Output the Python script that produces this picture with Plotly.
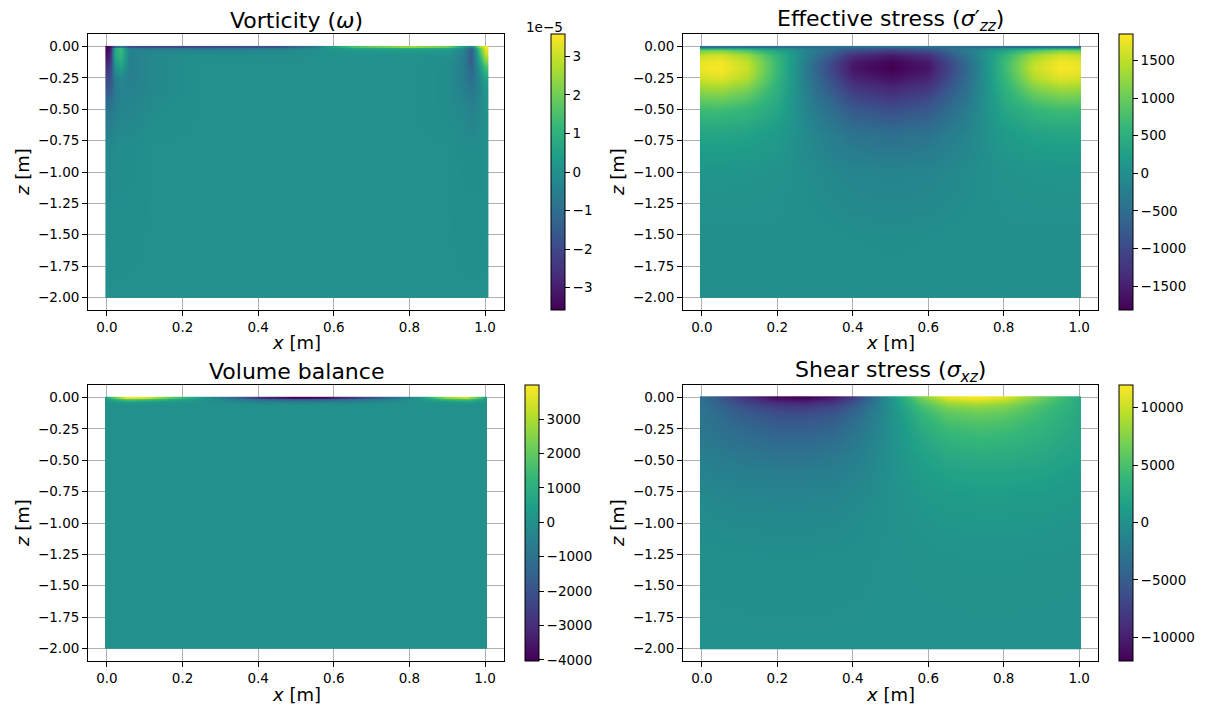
import plotly.graph_objects as go

# ---------------- data ----------------
x_ticks = [0.0, 0.2, 0.4, 0.6, 0.8, 1.0]
z_ticks = [0.0, -0.25, -0.5, -0.75, -1.0, -1.25, -1.5, -1.75, -2.0]

# Vorticity, in units of 1e-5
vort_x = [0.0, 0.008, 0.02, 0.035, 0.06, 0.12, 0.25, 0.45, 0.55, 0.65, 0.8, 0.9, 0.94, 0.965, 0.985, 1.0]
vort_z = [0.0, -0.01, -0.03, -0.06, -0.1, -0.16, -0.25, -0.35, -0.5, -0.8, -1.99, -2.0]
vort_vals = [
    [-3.5, -3.2, -1.5, -0.5, -1.8, -2.0, -2.0, -1.8, -0.5, 1.5, 2.5, 2.0, 0.5, -0.5, 2.5, 3.5],
    [-3.5, -3.0, 0.5, 1.3, -0.8, -0.8, -0.8, -0.7, -0.2, 0.6, 0.8, 0.6, 0.0, -1.2, 1.8, 3.5],
    [-3.4, -2.8, 0.6, 1.3, -0.4, -0.4, -0.4, -0.3, 0.0, 0.3, 0.4, 0.3, -0.3, -1.5, 1.5, 3.3],
    [-3.2, -2.6, 0.6, 1.2, -0.4, -0.2, -0.1, -0.1, 0.0, 0.1, 0.1, 0.1, -0.4, -1.5, 1.2, 3.0],
    [-3.0, -2.4, 0.4, 1.0, -0.5, -0.2, 0.0, 0.0, 0.0, 0.0, 0.0, 0.0, -0.5, -1.5, 0.8, 2.5],
    [-2.5, -2.1, 0.0, 0.5, -0.5, -0.2, 0.0, 0.0, 0.0, 0.0, 0.0, -0.1, -0.5, -1.3, 0.3, 1.5],
    [-2.0, -1.8, -0.6, -0.2, -0.5, -0.2, 0.0, 0.0, 0.0, 0.0, 0.0, -0.1, -0.5, -1.0, -0.2, 0.6],
    [-1.5, -1.3, -0.7, -0.4, -0.4, -0.2, 0.0, 0.0, 0.0, 0.0, 0.0, -0.1, -0.4, -0.7, -0.3, 0.2],
    [-0.8, -0.7, -0.5, -0.3, -0.3, -0.1, 0.0, 0.0, 0.0, 0.0, 0.0, -0.1, -0.2, -0.4, -0.2, 0.0],
    [-0.2, -0.2, -0.1, -0.1, -0.1, 0.0, 0.0, 0.0, 0.0, 0.0, 0.0, 0.0, -0.1, -0.1, -0.1, 0.0],
    [0.0] * 16,
    [0.0] * 16,
]
vort_range = [-3.58, 3.58]
vort_cticks = [-3, -2, -1, 0, 1, 2, 3]

# Effective stress
eff_x = [0.0, 0.01, 0.05, 0.12, 0.2, 0.3, 0.4, 0.5, 0.6, 0.7, 0.8, 0.88, 0.95, 0.99, 1.0]
eff_z = [0.0, -0.01, -0.03, -0.07, -0.12, -0.18, -0.25, -0.35, -0.5, -0.7, -1.0, -1.5, -1.99, -2.0]
eff_vals = [
    [-500, -500, -500, -500, -500, -500, -500, -500, -500, -500, -500, -500, -500, -500, -500],
    [200, 250, 300, 200, 0, -400, -700, -800, -700, -400, 0, 200, 300, 250, 200],
    [1000, 1050, 1100, 800, 300, -300, -900, -1100, -900, -300, 300, 800, 1100, 1050, 1000],
    [1500, 1550, 1600, 1300, 550, -400, -1300, -1550, -1300, -400, 550, 1300, 1600, 1550, 1500],
    [1720, 1760, 1800, 1500, 650, -550, -1550, -1780, -1550, -550, 650, 1500, 1800, 1760, 1720],
    [1750, 1790, 1820, 1550, 650, -600, -1600, -1815, -1600, -600, 650, 1550, 1820, 1790, 1750],
    [1600, 1640, 1680, 1420, 600, -550, -1450, -1650, -1450, -550, 600, 1420, 1680, 1640, 1600],
    [1200, 1230, 1250, 1050, 500, -450, -1150, -1350, -1150, -450, 500, 1050, 1250, 1230, 1200],
    [700, 710, 720, 620, 350, -300, -800, -950, -800, -300, 350, 620, 720, 710, 700],
    [320, 330, 330, 290, 180, -150, -420, -480, -420, -150, 180, 290, 330, 330, 320],
    [90, 90, 90, 80, 50, -50, -140, -160, -140, -50, 50, 80, 90, 90, 90],
    [0, 0, 0, 0, 0, 0, -20, -30, -20, 0, 0, 0, 0, 0, 0],
    [0] * 15,
    [0] * 15,
]
eff_range = [-1815, 1850]
eff_cticks = [-1500, -1000, -500, 0, 500, 1000, 1500]

# Volume balance
vol_x = [0.0, 0.01, 0.05, 0.1, 0.17, 0.25, 0.33, 0.42, 0.5, 0.58, 0.67, 0.75, 0.83, 0.9, 0.95, 0.99, 1.0]
vol_z = [0.0, -0.012, -0.03, -0.06, -1.99, -2.0]
vol_vals = [
    [500, 1500, 3900, 3700, 2000, 300, -1200, -3300, -4000, -3800, -2500, -1200, 300, 2800, 3500, 1500, 500],
    [300, 800, 2000, 1800, 1000, 150, -600, -1500, -1800, -1700, -1100, -500, 150, 1400, 1800, 800, 300],
    [100, 200, 500, 400, 200, 0, -200, -400, -500, -450, -300, -150, 50, 300, 450, 200, 100],
    [0] * 17,
    [0] * 17,
    [0] * 17,
]
vol_range = [-4030, 3990]
vol_cticks = [-4000, -3000, -2000, -1000, 0, 1000, 2000, 3000]

# Shear stress
shr_x = [0.0, 0.01, 0.1, 0.2, 0.27, 0.35, 0.42, 0.5, 0.58, 0.65, 0.73, 0.8, 0.9, 0.99, 1.0]
shr_z = [0.0, -0.02, -0.06, -0.12, -0.2, -0.3, -0.45, -0.6, -0.8, -1.0, -1.3, -1.99, -2.0]
shr_vals = [
    [-3500, -3800, -8000, -11500, -12000, -10500, -6500, 500, 7000, 11000, 12000, 10800, 6500, 3000, 2500],
    [-3300, -3600, -7200, -10000, -10500, -9000, -5500, 300, 6000, 9500, 10500, 9500, 6000, 2900, 2500],
    [-3100, -3300, -6000, -8000, -8200, -7200, -4500, 200, 4800, 7500, 8200, 7500, 5000, 2800, 2500],
    [-2900, -3000, -5000, -6400, -6600, -5800, -3600, 100, 3800, 6000, 6600, 6200, 4400, 2600, 2400],
    [-2700, -2800, -4200, -5200, -5300, -4700, -2900, 0, 3000, 4800, 5300, 5000, 3800, 2400, 2200],
    [-2400, -2500, -3500, -4200, -4200, -3700, -2300, 0, 2300, 3700, 4200, 4000, 3200, 2100, 2000],
    [-1800, -1900, -2500, -2900, -2900, -2500, -1600, 0, 1600, 2500, 2900, 2800, 2400, 1700, 1600],
    [-1300, -1300, -1700, -1900, -1900, -1700, -1100, 0, 1100, 1700, 1900, 1900, 1700, 1200, 1200],
    [-700, -700, -1000, -1100, -1100, -1000, -600, 0, 600, 1000, 1100, 1100, 1000, 700, 700],
    [-400, -400, -550, -600, -600, -550, -350, 0, 350, 550, 600, 600, 550, 400, 400],
    [-150, -150, -200, -250, -250, -200, -150, 0, 150, 200, 250, 250, 200, 150, 150],
    [0] * 15,
    [0] * 15,
]
shr_range = [-12050, 11965]
shr_cticks = [-10000, -5000, 0, 5000, 10000]

titles = ["Vorticity (<i>ω</i>)",
          "Effective stress (<i>σ</i>′<sub><i>zz</i></sub>)",
          "Volume balance",
          "Shear stress (<i>σ</i><sub><i>xz</i></sub>)"]

# ---------------- layout geometry (pixels) ----------------
W, H = 1211, 705
FONT = "DejaVu Sans"
# (left, right, top, bottom) of each axes, colorbar left
panels = [
    (88, 504, 34, 310, 551),
    (683, 1098, 34, 310, 1119),
    (88, 504, 385, 661, 525),
    (683, 1098, 385, 661, 1119),
]
fields = [
    (vort_x, vort_z, vort_vals, vort_range, vort_cticks),
    (eff_x, eff_z, eff_vals, eff_range, eff_cticks),
    (vol_x, vol_z, vol_vals, vol_range, vol_cticks),
    (shr_x, shr_z, shr_vals, shr_range, shr_cticks),
]

fig = go.Figure()
layout = dict(
    width=W, height=H, margin=dict(l=0, r=0, t=0, b=0),
    paper_bgcolor="white", plot_bgcolor="white",
    font=dict(family=FONT, size=13.5, color="black"),
    showlegend=False, annotations=[],
)

for i, ((l, r, t, b, cbl), (fx, fz, fv, frange, fct)) in enumerate(zip(panels, fields)):
    n = "" if i == 0 else str(i + 1)
    fig.add_trace(go.Heatmap(
        x=fx, y=fz[::-1], z=fv[::-1],
        zsmooth="best", colorscale="Viridis",
        zmin=frange[0], zmax=frange[1],
        xaxis="x" + n, yaxis="y" + n,
        colorbar=dict(
            x=cbl / W, xanchor="left", xpad=0, xref="paper",
            y=1 - (t + b) / 2 / H, yanchor="middle", ypad=0, yref="paper",
            len=b - t, lenmode="pixels", thickness=14, thicknessmode="pixels",
            outlinewidth=1, outlinecolor="black",
            ticks="outside", ticklen=4.9, tickwidth=1.1, tickcolor="black",
            tickvals=fct, tickformat="d",
            tickfont=dict(family=FONT, size=13.5, color="black"),
        ),
    ))
    axcommon = dict(
        showline=True, mirror=True, linecolor="black", linewidth=1.1,
        ticks="outside", ticklen=4.9, tickwidth=1.1, tickcolor="black",
        showgrid=True, gridcolor="#b0b0b0", gridwidth=1.1, zeroline=False,
        layer="above traces",
        tickfont=dict(family=FONT, size=13.5, color="black"),
    )
    layout["xaxis" + n] = dict(axcommon, domain=[l / W, r / W], anchor="y" + n,
                               range=[-0.05, 1.05], tickvals=x_ticks, tickformat=".1f")
    layout["yaxis" + n] = dict(axcommon, domain=[1 - b / H, 1 - t / H], anchor="x" + n,
                               range=[-2.1, 0.1], tickvals=z_ticks, tickformat=".2f")
    cx = (l + r) / 2
    layout["annotations"].append(dict(
        text=titles[i], x=cx / W, y=1 - (t - 14) / H, xref="paper", yref="paper",
        xanchor="center", yanchor="middle", showarrow=False,
        font=dict(family=FONT, size=22, color="black")))
    layout["annotations"].append(dict(
        text="<i>x</i> [m]", x=cx / W, y=1 - (b + 33) / H, xref="paper", yref="paper",
        xanchor="center", yanchor="middle", showarrow=False,
        font=dict(family=FONT, size=18, color="black")))
    layout["annotations"].append(dict(
        text="<i>z</i> [m]", x=(l - 66) / W, y=1 - (t + b) / 2 / H, xref="paper", yref="paper",
        xanchor="center", yanchor="middle", showarrow=False, textangle=-90,
        font=dict(family=FONT, size=18, color="black")))

layout["annotations"].append(dict(
    text="1e−5", x=565 / W, y=1 - 27 / H, xref="paper", yref="paper",
    xanchor="right", yanchor="middle", showarrow=False,
    font=dict(family=FONT, size=13.5, color="black")))

fig.update_layout(**layout)
fig.write_html("out.html")
